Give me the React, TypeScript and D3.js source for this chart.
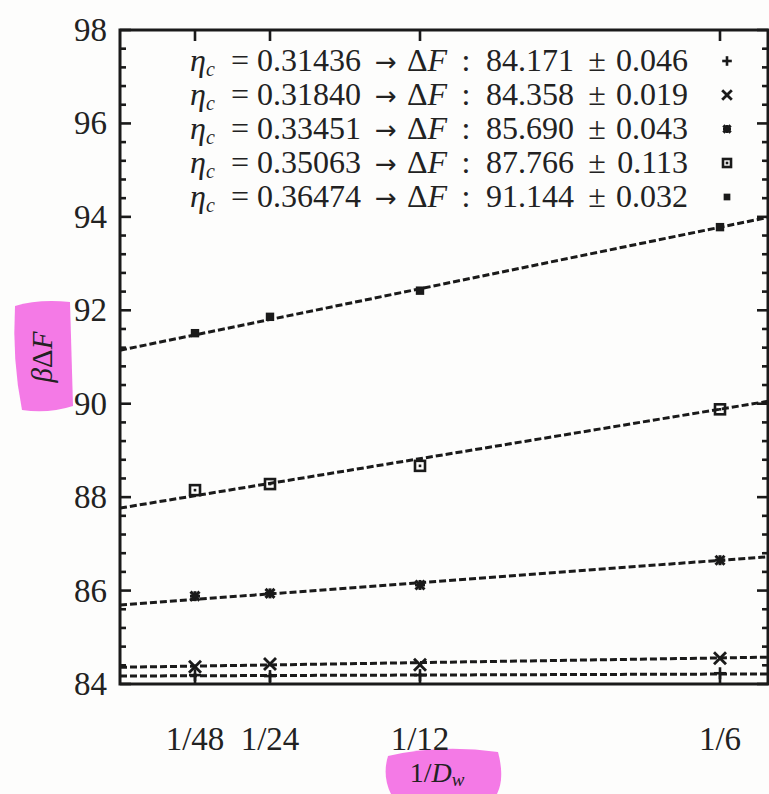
import React from "react";
import * as d3 from "d3";

// ---- data ----
const xTickValues = [1 / 48, 1 / 24, 1 / 12, 1 / 6];
const xTickLabels = ["1/48", "1/24", "1/12", "1/6"];
const yTickValues = [84, 86, 88, 90, 92, 94, 96, 98];

const etaLabels = ["0.31436", "0.31840", "0.33451", "0.35063", "0.36474"];
const dfLabels = ["84.171", "84.358", "85.690", "87.766", "91.144"];
const dfErrors = ["0.046", "0.019", "0.043", "0.113", "0.032"];
const fitIntercepts = [84.171, 84.358, 85.69, 87.766, 91.144];
const fitSlopes = [0.25, 1.2, 5.75, 12.7, 15.8];

const seriesPlus = [84.19, 84.17, 84.19, 84.23];
const seriesCross = [84.37, 84.43, 84.41, 84.55];
const seriesStar = [85.88, 85.94, 86.12, 86.65];
const seriesBox = [88.15, 88.28, 88.67, 89.88];
const seriesFill = [91.51, 91.86, 92.42, 93.78];
const allSeries = [seriesPlus, seriesCross, seriesStar, seriesBox, seriesFill];
const markerTypes = ["plus", "cross", "star", "box", "fill"];

const W = 769;
const H = 794;
const left = 120;
const right = 768;
const top = 30;
const bottom = 684;

const x = d3.scaleLinear().domain([0, 0.18]).range([left, right]);
const y = d3.scaleLinear().domain([84, 98]).range([bottom, top]);

const FONT = "'Liberation Serif', 'DejaVu Serif', serif";
const INK = "#1a1a1a";

function Marker({ type, cx, cy, s = 1 }: { type: string; cx: number; cy: number; s?: number }) {
  const k = s;
  if (type === "plus") {
    return (
      <g stroke={INK} strokeWidth={2.6}>
        <line x1={cx - 6 * k} x2={cx + 6 * k} y1={cy} y2={cy} />
        <line x1={cx} x2={cx} y1={cy - 6 * k} y2={cy + 6 * k} />
      </g>
    );
  }
  if (type === "cross") {
    return (
      <g stroke={INK} strokeWidth={2.8}>
        <line x1={cx - 6 * k} x2={cx + 6 * k} y1={cy - 6 * k} y2={cy + 6 * k} />
        <line x1={cx - 6 * k} x2={cx + 6 * k} y1={cy + 6 * k} y2={cy - 6 * k} />
      </g>
    );
  }
  if (type === "star") {
    return (
      <g stroke={INK} strokeWidth={3}>
        <line x1={cx - 5 * k} x2={cx + 5 * k} y1={cy} y2={cy} />
        <line x1={cx} x2={cx} y1={cy - 5 * k} y2={cy + 5 * k} />
        <line x1={cx - 4.5 * k} x2={cx + 4.5 * k} y1={cy - 4.5 * k} y2={cy + 4.5 * k} />
        <line x1={cx - 4.5 * k} x2={cx + 4.5 * k} y1={cy + 4.5 * k} y2={cy - 4.5 * k} />
      </g>
    );
  }
  if (type === "box") {
    return (
      <g>
        <rect x={cx - 5 * k} y={cy - 5 * k} width={10 * k} height={10 * k} fill="none" stroke={INK} strokeWidth={2.6} />
        <rect x={cx - 1.3} y={cy - 1.3} width={2.6} height={2.6} fill={INK} />
      </g>
    );
  }
  return <rect x={cx - 4.2 * k} y={cy - 4.2 * k} width={8.4 * k} height={8.4 * k} fill={INK} />;
}

export default function App() {
  const minorY: number[] = [];
  for (let v = 84; v <= 98.001; v += 0.4) minorY.push(+v.toFixed(2));

  const fitLine = (i: number) =>
    d3
      .line<number>()
      .x((d) => x(d))
      .y((d) => y(fitIntercepts[i] + fitSlopes[i] * d))([0, 0.18]);

  const legendY = [61, 95, 129, 163, 197];
  const LF = 32;

  return (
    <div style={{ position: "absolute", left: 0, top: 0 }}>
      <svg width={W} height={H} style={{ display: "block", background: "#fdfdfc" }} fontFamily={FONT}>
        <defs>
          <clipPath id="plotclip">
            <rect x={left} y={top} width={right - left} height={bottom - top} />
          </clipPath>
        </defs>

        {/* highlighter marks */}
        <path d="M15,306 Q38,299 70,302 L73,406 Q48,414 22,410 Q12,360 15,306 Z" fill="#f47ae6" />
        <path d="M388,756 Q440,744 498,752 Q505,778 497,794 L391,794 Q382,776 388,756 Z" fill="#f47ae6" />

        {/* fit lines */}
        <g clipPath="url(#plotclip)">
          {fitIntercepts.map((_, i) => (
            <path key={i} d={fitLine(i) || ""} fill="none" stroke={INK} strokeWidth={3} strokeDasharray="7,3" />
          ))}
        </g>

        {/* points */}
        {allSeries.map((s, si) =>
          s.map((v, j) => <Marker key={`${si}-${j}`} type={markerTypes[si]} cx={x(xTickValues[j])} cy={y(v)} />)
        )}

        {/* frame */}
        <rect x={left} y={top} width={right - left} height={bottom - top} fill="none" stroke={INK} strokeWidth={3} />

        {/* y ticks */}
        {minorY.map((v, i) => {
          const major = Math.abs(v - Math.round(v / 2) * 2) < 0.01;
          const len = major ? 11 : 6;
          return (
            <g key={i} stroke={INK} strokeWidth={2.6}>
              <line x1={left} x2={left + len} y1={y(v)} y2={y(v)} />
              <line x1={right} x2={right - len} y1={y(v)} y2={y(v)} />
            </g>
          );
        })}
        {yTickValues.map((v) => (
          <text key={v} x={107} y={y(v) + 11} textAnchor="end" fontSize={33} fill="#222">
            {v}
          </text>
        ))}

        {/* x ticks */}
        {xTickValues.map((v, i) => (
          <g key={i}>
            <line x1={x(v)} x2={x(v)} y1={bottom} y2={bottom - 11} stroke={INK} strokeWidth={2.6} />
            <line x1={x(v)} x2={x(v)} y1={top} y2={top + 11} stroke={INK} strokeWidth={2.6} />
            <text x={x(v)} y={750} textAnchor="middle" fontSize={33} fill="#222">
              {xTickLabels[i]}
            </text>
          </g>
        ))}

        {/* axis labels */}
        <text transform="translate(52,357) rotate(-90)" textAnchor="middle" fontSize={29} fill="#222">
          <tspan fontStyle="italic">β</tspan>Δ<tspan fontStyle="italic">F</tspan>
        </text>
        <text x={437} y={782} textAnchor="middle" fontSize={28} fill="#222">
          1/<tspan fontStyle="italic">D</tspan>
          <tspan fontStyle="italic" fontSize={19} dy={4}>
            w
          </tspan>
        </text>

        {/* legend */}
        {etaLabels.map((eta, i) => {
          const by = legendY[i] + 10;
          return (
            <g key={i} fontSize={LF} fill="#222">
              <text x={190} y={by}>
                <tspan fontStyle="italic">η</tspan>
                <tspan fontStyle="italic" fontSize={20} dy={5}>
                  c
                </tspan>
              </text>
              <text x={240} y={by} textAnchor="middle">=</text>
              <text x={309} y={by} textAnchor="middle">{eta}</text>
              <text x={386} y={by} textAnchor="middle" fontFamily="'DejaVu Sans', sans-serif" fontSize={26}>→</text>
              <text x={407} y={by}>
                Δ<tspan fontStyle="italic">F</tspan>
              </text>
              <text x={466} y={by} textAnchor="middle">:</text>
              <text x={530} y={by} textAnchor="middle">{dfLabels[i]}</text>
              <text x={597} y={by} textAnchor="middle">±</text>
              <text x={688} y={by} textAnchor="end">{dfErrors[i]}</text>
              <Marker type={markerTypes[i]} cx={727} cy={legendY[i]} s={0.8} />
            </g>
          );
        })}
      </svg>
    </div>
  );
}
